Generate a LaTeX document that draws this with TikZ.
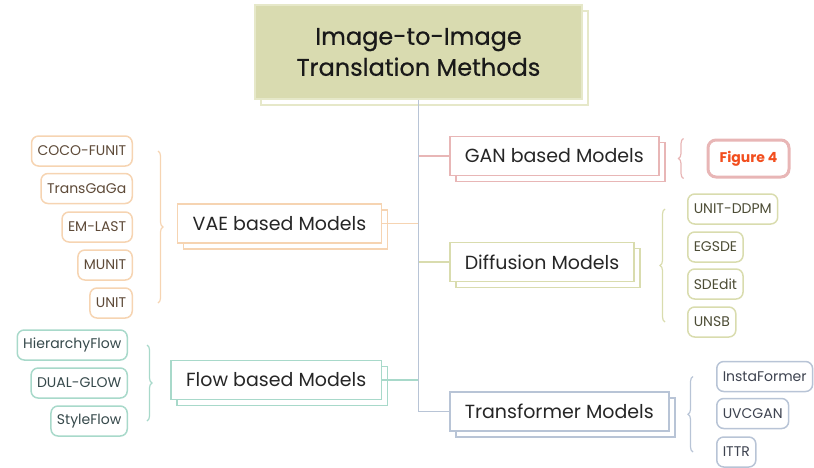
\documentclass[tikz,border=0pt]{standalone}
\usepackage{fontspec}
\setmainfont{Poppins}
\usetikzlibrary{positioning}
\usetikzlibrary{calc}
\usetikzlibrary{shadows}
\usetikzlibrary{decorations.pathreplacing}
\definecolor{rootfill}{HTML}{D9DBB0}
\definecolor{rootline}{HTML}{E6E8C9}
\definecolor{ganline}{HTML}{E8B6B6}
\definecolor{vaeline}{HTML}{F6D4B2}
\definecolor{difline}{HTML}{D9DCAE}
\definecolor{flowline}{HTML}{A8D9CA}
\definecolor{tfline}{HTML}{B8C4D6}
\definecolor{vaetext}{HTML}{5E4A38}
\definecolor{flowtext}{HTML}{36494B}
\definecolor{diftext}{HTML}{4D4D36}
\definecolor{tftext}{HTML}{3E4350}
\definecolor{figred}{HTML}{F24E1E}
\newcommand{\lleaf}[4]{\node(#1)[leaf, #2, anchor=east] at #3 {#4}}
\newcommand{\rleaf}[4]{\node(#1)[leaf, #2, anchor=west] at #3 {#4}}
\newcommand{\branch}[5]{\node(#1)[branch, draw=#2, anchor=#3,
    general shadow={draw=#2, fill=white, line width=1.5pt,
                    shadow xshift=6pt, shadow yshift=-6pt}] at #4 {#5}}

\begin{document}
\begin{tikzpicture}[
        x=1pt, y=-1pt,
        every node/.style={font=\fontsize{14}{16}\selectfont},
        root/.style={rectangle, fill=rootfill, draw=rootline, line width=1.5pt,
                     minimum width=327pt, minimum height=94pt, align=center,
                     font=\addfontfeatures{FakeBold=0.5}\fontsize{24}{31}\selectfont,
                     text=black!90},
        branch/.style={rectangle, fill=white, line width=1.5pt, minimum height=39pt,
                       inner xsep=15pt, font=\fontsize{19}{22}\selectfont, text=black!85},
        leaf/.style={rectangle, rounded corners=7pt, line width=1.5pt, fill=white,
                     minimum height=30pt, inner xsep=6pt},
        vaeleaf/.style={draw=vaeline, text=vaetext},
        flowleaf/.style={draw=flowline, text=flowtext},
        difleaf/.style={draw=difline, text=diftext},
        tfleaf/.style={draw=tfline, text=tftext},
        figbox/.style={rectangle, rounded corners=8pt, draw=ganline, line width=3pt,
                       minimum width=81pt, minimum height=37pt,
                       font=\bfseries\fontsize{14}{16}\selectfont, text=figred},
        brace/.style={decorate, decoration={brace, amplitude=5pt}, line width=1.2pt},
        link/.style={line width=1.5pt}
      ]
      \useasboundingbox (0,0) rectangle (814,467);

      \node(root)[root, general shadow={draw=rootline, fill=white, line width=1.5pt,
                  shadow xshift=6pt, shadow yshift=-6pt}] at (418.5,52)
           {Image-to-Image\\Translation Methods};

      \branch{vae}{vaeline}{east}{(382,223.5)}{VAE based Models};
      \branch{flow}{flowline}{east}{(382,380)}{Flow based Models};
      \branch{gan}{ganline}{west}{(449,156)}{GAN based Models};
      \branch{dif}{difline}{west}{(449,262)}{Diffusion Models};
      \branch{tf}{tfline}{west}{(449,411.5)}{Transformer Models};

      \lleaf{cocofunit}{vaeleaf}{(133,151)}{COCO-FUNIT};
      \lleaf{transgaga}{vaeleaf}{(133,188.5)}{TransGaGa};
      \lleaf{emlast}{vaeleaf}{(133,227)}{EM-LAST};
      \lleaf{munit}{vaeleaf}{(133,265)}{MUNIT};
      \lleaf{unit}{vaeleaf}{(133,303)}{UNIT};

      \lleaf{hierflow}{flowleaf}{(128,345)}{HierarchyFlow};
      \lleaf{dualglow}{flowleaf}{(128,383)}{DUAL-GLOW};
      \lleaf{styleflow}{flowleaf}{(128,421)}{StyleFlow};

      \node(fig4)[figbox] at (748.5,158.5) {Figure 4};

      \rleaf{unitddpm}{difleaf}{(687,209)}{UNIT-DDPM};
      \rleaf{egsde}{difleaf}{(687,247)}{EGSDE};
      \rleaf{sdedit}{difleaf}{(687,284)}{SDEdit};
      \rleaf{unsb}{difleaf}{(687,322)}{UNSB};

      \rleaf{instaformer}{tfleaf}{(716,376.5)}{InstaFormer};
      \rleaf{uvcgan}{tfleaf}{(716,413.5)}{UVCGAN};
      \rleaf{ittr}{tfleaf}{(716,452)}{ITTR};

      \coordinate (trunkend) at (root.south |- tf.west);

      \draw[link, draw=vaeline] (vae.east) -- (vae.east -| trunkend);
      \draw[link, draw=flowline] (flow.east) -- (flow.east -| trunkend);
      \draw[link, draw=ganline] (gan.west -| trunkend) -- (gan.west);
      \draw[link, draw=difline] (dif.west -| trunkend) -- (dif.west);
      \draw[link, draw=tfline] (root.south) -- (trunkend) -- (tf.west);

      \draw[brace, draw=vaeline] ([xshift=25pt]cocofunit.east) -- ([xshift=25pt]unit.east);
      \draw[brace, draw=flowline] ([xshift=19pt]hierflow.east) -- ([xshift=19pt]styleflow.east);
      \draw[brace, draw=ganline] ([xshift=-23pt]fig4.south west) -- ([xshift=-23pt]fig4.north west);
      \draw[brace, draw=difline] ([xshift=-22pt]unsb.west) -- ([xshift=-22pt]unitddpm.west);
      \draw[brace, draw=tfline] ([xshift=-23pt]ittr.west) -- ([xshift=-23pt]instaformer.west);
    \end{tikzpicture}
\end{document}
